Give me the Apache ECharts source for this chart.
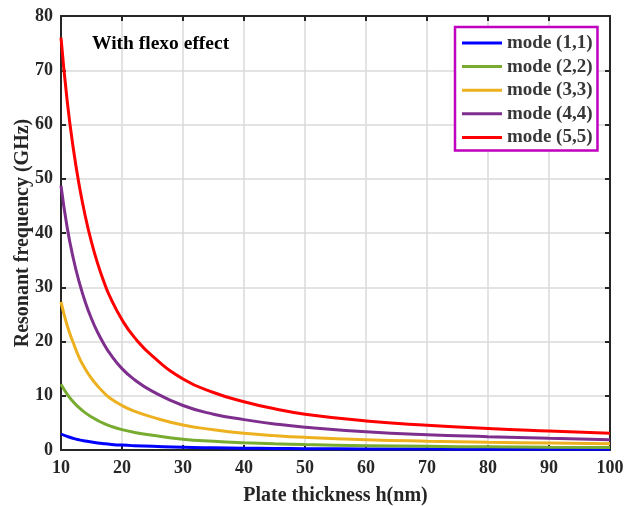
<!DOCTYPE html>
<html>
<head>
<meta charset="utf-8">
<script src="https://cdn.jsdelivr.net/npm/echarts@6/dist/echarts.min.js"></script>
<style>
html,body{margin:0;padding:0;background:#fff;}
#c{width:627px;height:506px;}
</style>
</head>
<body>
<div id="c"></div>
<script>
// Plate thickness h (nm)
const thickness = [10, 11, 12, 13, 14, 15, 16, 17, 18, 20, 22, 25, 30, 35, 40, 45, 50, 60, 70, 80, 90, 100];
// Resonant frequency (GHz)
const mode11 = [2.95, 2.5, 2.15, 1.87, 1.65, 1.46, 1.3, 1.17, 1.06, 0.9, 0.79, 0.67, 0.5, 0.41, 0.34, 0.29, 0.25, 0.2, 0.17, 0.15, 0.13, 0.12];
const mode22 = [12.15, 10.3, 8.9, 7.75, 6.85, 6.1, 5.45, 4.9, 4.45, 3.75, 3.25, 2.7, 2.0, 1.62, 1.35, 1.15, 1.0, 0.8, 0.67, 0.58, 0.51, 0.46];
const mode33 = [27.3, 23.0, 19.8, 17.0, 14.9, 13.2, 11.8, 10.6, 9.6, 8.2, 7.15, 6.05, 4.6, 3.75, 3.1, 2.65, 2.33, 1.9, 1.62, 1.42, 1.27, 1.15];
const mode44 = [48.7, 41.1, 35.4, 30.9, 27.2, 24.2, 21.7, 19.6, 17.8, 15.0, 13.0, 10.8, 8.2, 6.6, 5.6, 4.8, 4.2, 3.35, 2.8, 2.45, 2.15, 1.9];
const mode55 = [76.0, 64.5, 55.7, 48.7, 43.0, 38.3, 34.4, 31.1, 28.3, 24.0, 20.8, 17.3, 13.1, 10.6, 8.9, 7.6, 6.6, 5.35, 4.55, 3.95, 3.5, 3.1];
const seriesNames = ['mode (1,1)', 'mode (2,2)', 'mode (3,3)', 'mode (4,4)', 'mode (5,5)'];
const seriesColors = ['#0000ff', '#77ac30', '#edb120', '#7e2f8e', '#ff0000'];
const xTicks = [10, 20, 30, 40, 50, 60, 70, 80, 90, 100];
const yTicks = [0, 10, 20, 30, 40, 50, 60, 70, 80];

const allSeries = [mode11, mode22, mode33, mode44, mode55];
const font = 'Liberation Serif';
const axisColor = '#262626';

const chart = echarts.init(document.getElementById('c'), null, {renderer: 'canvas'});
const mkSeries = allSeries.map((vals, i) => ({
  name: seriesNames[i],
  type: 'line',
  data: thickness.map((h, j) => [h, vals[j]]),
  symbol: 'none',
  smooth: 0.5,
  lineStyle: {width: 3, color: seriesColors[i]},
  itemStyle: {color: seriesColors[i]},
  z: 3 + i
}));

chart.setOption({
  animation: false,
  backgroundColor: '#fff',
  grid: {left: 61, right: 17, top: 16, bottom: 56, containLabel: false, outerBoundsMode: 'none'},
  title: {
    text: 'With flexo effect',
    left: 92, top: 34, padding: 0,
    textStyle: {fontFamily: font, fontWeight: 'bold', fontSize: 19.5, color: '#000'}
  },
  legend: {
    data: seriesNames,
    orient: 'vertical',
    left: 455, top: 27,
    icon: 'rect',
    itemWidth: 40, itemHeight: 3,
    itemGap: 3.6,
    itemTextGap: 4,
    padding: [6, 5, 3, 7],
    borderColor: '#bf00bf', borderWidth: 2.5,
    backgroundColor: '#fff',
    textStyle: {fontFamily: font, fontWeight: 'bold', fontSize: 19, color: '#383838', lineHeight: 20}
  },
  xAxis: [{
    type: 'value', min: 10, max: 100, interval: 10,
    name: 'Plate thickness h(nm)', nameLocation: 'middle', nameGap: 36,
    nameTextStyle: {fontFamily: font, fontWeight: 'bold', fontSize: 20, color: axisColor},
    axisLine: {show: true, onZero: false, lineStyle: {color: axisColor, width: 2}},
    axisTick: {show: true, inside: true, length: 5, lineStyle: {color: axisColor, width: 2}},
    axisLabel: {margin: 9, fontFamily: font, fontWeight: 'bold', fontSize: 18, color: axisColor,
      formatter: v => xTicks.includes(v) ? String(v) : ''},
    splitLine: {show: true, lineStyle: {color: '#dadada', width: 1.5}}
  }, {
    type: 'value', min: 10, max: 100, interval: 10, position: 'top',
    axisLine: {show: true, onZero: false, lineStyle: {color: axisColor, width: 2}},
    axisTick: {show: true, inside: true, length: 5, lineStyle: {color: axisColor, width: 2}},
    axisLabel: {show: false}, splitLine: {show: false}
  }],
  yAxis: [{
    type: 'value', min: 0, max: 80, interval: 10,
    name: 'Resonant frequency (GHz)', nameLocation: 'middle', nameGap: 28,
    nameMoveOverlap: false,
    nameTextStyle: {fontFamily: font, fontWeight: 'bold', fontSize: 20, color: axisColor},
    axisLine: {show: true, onZero: false, lineStyle: {color: axisColor, width: 2}},
    axisTick: {show: true, inside: true, length: 5, lineStyle: {color: axisColor, width: 2}},
    axisLabel: {margin: 8, fontFamily: font, fontWeight: 'bold', fontSize: 18, color: axisColor,
      formatter: v => yTicks.includes(v) ? String(v) : ''},
    splitLine: {show: true, lineStyle: {color: '#dadada', width: 1.5}}
  }, {
    type: 'value', min: 0, max: 80, interval: 10, position: 'right',
    axisLine: {show: true, onZero: false, lineStyle: {color: axisColor, width: 2}},
    axisTick: {show: true, inside: true, length: 5, lineStyle: {color: axisColor, width: 2}},
    axisLabel: {show: false}, splitLine: {show: false}
  }],
  series: mkSeries
});
</script>
</body>
</html>
